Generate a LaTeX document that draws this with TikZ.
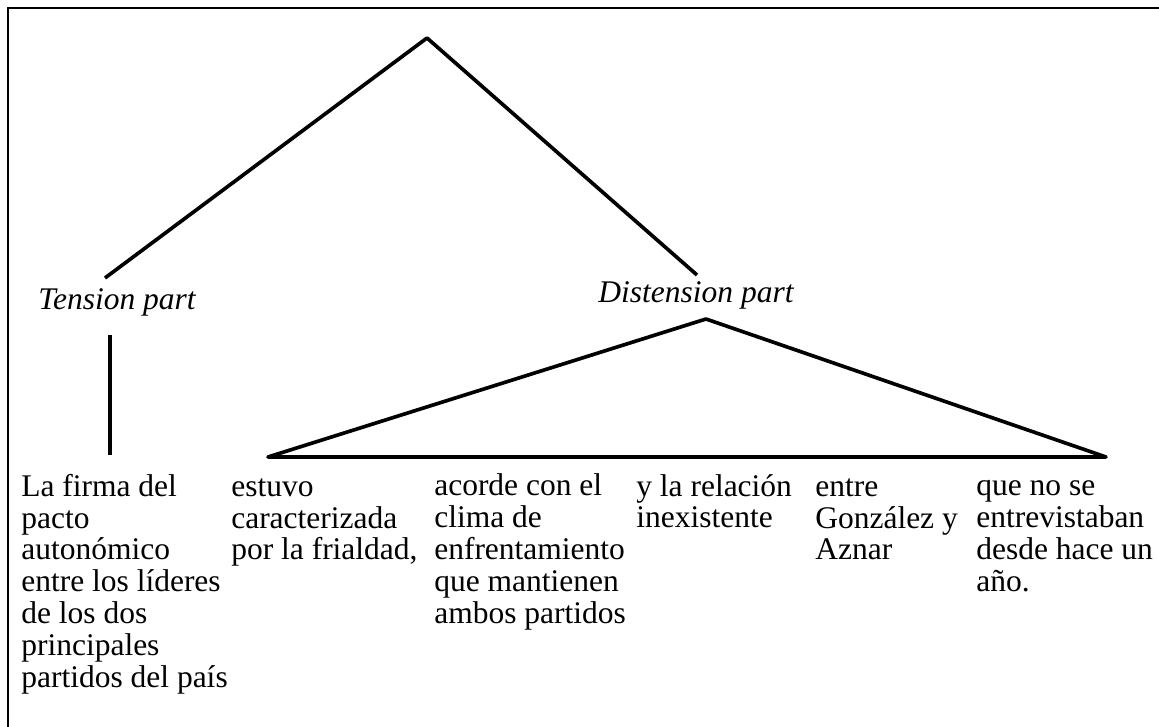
\documentclass[tikz,border=0pt]{standalone}
\usepackage{fontspec}
\setmainfont{Liberation Serif}
\begin{document}
\begin{tikzpicture}
[x=0.025cm, y=-0.025cm,
part/.style ={font=\itshape\fontsize{22.4}{22.6}\selectfont,
inner sep=0pt, anchor=base},
leaf/.style ={font=\fontsize{22.4}{22.6}\selectfont,
align=left, inner sep=0pt, anchor=base west},
branch/.style ={draw, line width=2.6pt, line join=round},
frame/.style ={draw, line width=1.6pt}]
\useasboundingbox (0,0) rectangle (1159,727);
\draw [frame] (8,727) -- (8,8) -- (1159,8);

% tree top
\coordinate (root)     at (427,38);
\coordinate (tp-in)    at (105,278);
\coordinate (dp-in)    at (697,275);
\node [part]           (tp)    at (117,310)           {Tension part};
\node [part]           (dp)    at (696,303)           {Distension part};

% ends of the lower branches
\coordinate (tp-out)   at (110,335);
\coordinate (tp-leaf)  at (110,455);
\coordinate (dp-out)   at (706,319);
\coordinate (base-l)   at (268,457);
\coordinate (base-r)   at (1106,457);

% text segments (placed at the baseline of their last line)
\node [leaf]           (firma) at (21,687)   {La firma del\\pacto\\autonómico\\entre los líderes\\de los dos\\principales\\partidos del país};
\node [leaf]           (estuvo) at (231,560) {estuvo\\caracterizada\\por la frialdad,};
\node [leaf]           (acorde) at (434,623) {acorde con el\\clima de\\enfrentamiento\\que mantienen\\ambos partidos};
\node [leaf]           (rel)   at (636,528)  {y la relación\\inexistente};
\node [leaf]           (entre) at (815,560)  {entre\\González y\\Aznar};
\node [leaf]           (anio)  at (976,591)  {que no se\\entrevistaban\\desde hace un\\año.};

\draw  [branch] (tp-in) -- (root) -- (dp-in);
\draw  [branch] (tp-out) -- (tp-leaf);
\draw  [branch] (base-l) -- (dp-out) -- (base-r) -- cycle;

\end{tikzpicture}
\end{document}
